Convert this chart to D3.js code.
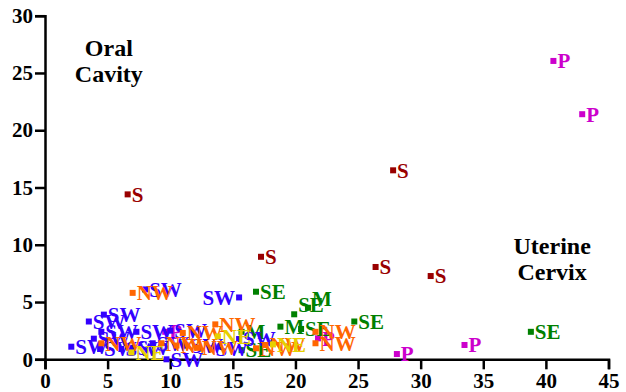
<!DOCTYPE html>
<html><head><meta charset="utf-8">
<script src="https://cdn.jsdelivr.net/npm/d3@7"></script>
<style>
html,body{margin:0;padding:0;background:#fff;}
svg{display:block;}
svg text{font-family:"Liberation Serif","Times New Roman","DejaVu Serif",serif !important;font-weight:bold;}
</style></head>
<body>
<svg id="chart" width="626" height="392"></svg>
<script>
// ---- data ----
const labels = ["S","S","S","S","S",
  "P","P","P","P","P","P",
  "SE","SE","SE","SE","SE","SE",
  "M","M","M",
  "SW","SW","SW","SW","SW","SW","SW","SW","SW","SW","SW","SW","SW","SW","SW","SW","SW",
  "NW","NW","NW","NW","NW","NW","NW","NW","NW","NW","NW",
  "NE","NE","NE"];
const xValues = [6.6,27.8,17.25,26.4,30.8,
  40.6,42.9,28.1,33.5,21.8,9.6,
  38.8,16.85,24.7,19.9,20.45,15.7,
  21.0,18.8,15.7,
  2.1,3.5,4.7,3.9,4.5,4.4,6.1,8.0,7.0,9.7,10.0,8.6,11.3,13.3,15.5,15.5,7.3,
  7.0,4.5,9.3,10.5,11.0,12.2,13.6,16.85,17.6,21.6,21.6,
  6.9,13.8,18.2];
const yValues = [14.4,16.5,8.95,8.06,7.27,
  26.05,21.4,0.46,1.25,1.83,2.4,
  2.4,5.9,3.3,3.93,2.65,0.8,
  4.5,2.85,2.4,
  1.1,3.3,3.9,1.8,2.4,0.9,0.9,6.1,1.0,0.0,2.5,1.4,1.2,0.95,5.4,1.77,2.4,
  5.8,1.4,1.4,1.2,2.3,1.0,3.05,0.96,1.25,2.4,1.4,
  0.6,2.0,1.3];
// label placement relative to its marker: r = right, l = left, u = above right
const labelSide = ["r","r","r","r","r",
  "r","r","r","r","r","r",
  "r","r","r","u","r","r",
  "u","r","r",
  "r","r","r","r","r","r","r","r","r","r","r","r","r","r","l","r","r",
  "r","r","r","r","r","r","r","r","r","r","r",
  "r","r","r"];
const categories = ["S","P","SE","M","SW","NW","NE"];
const categoryColors = ["#990000","#cc00cc","#008000","#008000","#3300ff","#ff6600","#e6d000"];
const xTicks = [0,5,10,15,20,25,30,35,40,45];
const yTicks = [0,5,10,15,20,25,30];
const annotations = [
  {lines:["Oral","Cavity"], x:5.1, y:26.5},
  {lines:["Uterine","Cervix"], x:40.5, y:9.2}
];

// ---- drawing ----
const FONT = "'Liberation Serif','Times New Roman','DejaVu Serif',serif";
const svg = d3.select("#chart");
const x = d3.scaleLinear().domain([0,45]).range([45,608.5]);
const y = d3.scaleLinear().domain([0,30]).range([359.3,15.7]);
const color = d3.scaleOrdinal().domain(categories).range(categoryColors);

const gx = svg.append("g").attr("transform","translate(0,359.3)")
  .call(d3.axisBottom(x).tickValues(xTicks).tickSize(10).tickPadding(4).tickFormat(d3.format("d")));
const gy = svg.append("g").attr("transform","translate(45,0)")
  .call(d3.axisLeft(y).tickValues(yTicks).tickSize(10).tickPadding(2).tickFormat(d3.format("d")));
[gx,gy].forEach(g=>{
  g.attr("font-family",FONT).attr("font-size",21).attr("font-weight","bold");
  g.select(".domain").attr("stroke","#000").attr("stroke-width",2.5);
  g.selectAll(".tick line").attr("stroke","#000").attr("stroke-width",2.5);
  g.selectAll(".tick text").attr("fill","#000");
});

const pts = labels.map((l,i)=>({label:l, x:xValues[i], y:yValues[i], side:labelSide[i]}));
const g = svg.append("g").attr("font-family",FONT).attr("font-weight","bold");
const pg = g.selectAll("g.pt").data(pts).join("g").attr("class","pt");
pg.append("rect")
  .attr("x",d=>x(d.x)-3).attr("y",d=>y(d.y)-3)
  .attr("width",6).attr("height",6)
  .attr("fill",d=>color(d.label));
pg.append("text")
  .attr("x",d=>d.side==="l"? x(d.x)-4 : x(d.x)+4)
  .attr("y",d=>y(d.y))
  .attr("dy",d=>d.side==="u"? "-0.1em" : "0.35em")
  .attr("text-anchor",d=>d.side==="l"?"end":"start")
  .attr("fill",d=>color(d.label))
  .attr("font-size",21)
  .text(d=>d.label);

annotations.forEach(a=>{
  const t = svg.append("text").attr("text-anchor","middle").attr("fill","#000")
    .attr("font-family",FONT).attr("font-weight","bold").attr("font-size",24);
  a.lines.forEach((ln,i)=>{
    t.append("tspan").attr("x",x(a.x)).attr("y",y(a.y)+i*26).text(ln);
  });
});
</script>
</body></html>
